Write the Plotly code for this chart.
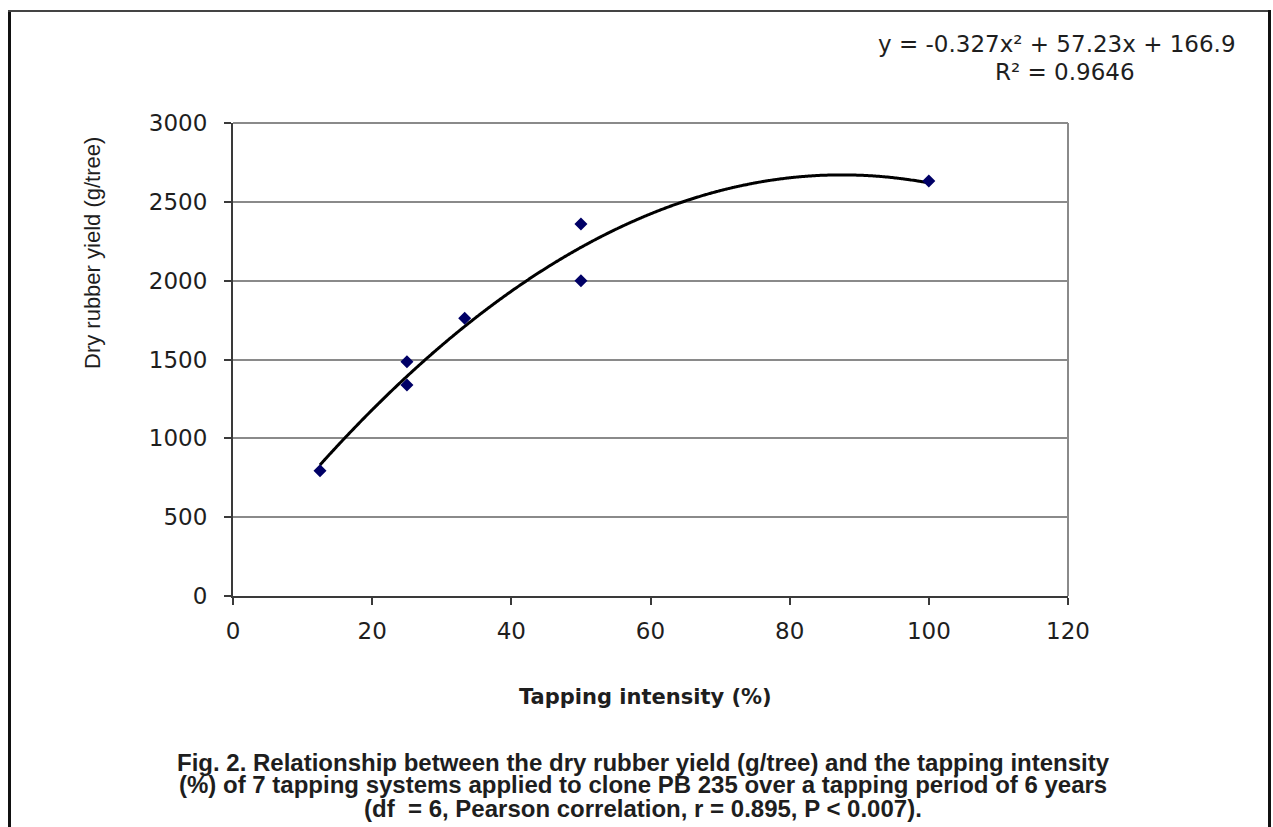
import numpy as np
import plotly.graph_objects as go

# Tapping intensity (%) and dry rubber yield (g/tree) for the 7 tapping systems
intensity = [12.5, 25, 25, 33.3, 50, 50, 100]
yield_g = [795, 1486, 1338, 1761, 2359, 2000, 2632]

# Quadratic trend reported for the data
coef_a, coef_b, coef_c = -0.327, 57.23, 166.9
r_squared = 0.9646

x_ticks = [0, 20, 40, 60, 80, 100, 120]
y_ticks = [0, 500, 1000, 1500, 2000, 2500, 3000]

caption_lines = [
    "Fig. 2. Relationship between the dry rubber yield (g/tree) and the tapping intensity",
    "(%) of 7 tapping systems applied to clone PB 235 over a tapping period of 6 years",
    "(df  = 6, Pearson correlation, r = 0.895, P < 0.007).",
]

W, H = 1273, 827
L, R, T, B = 233, 1068, 123, 596  # plot area in pixels


def px(x):
    return (x - L) / (R - L)


def py(y):
    return (B - y) / (B - T)


trend_x = np.linspace(min(intensity), max(intensity), 400)
trend_y = coef_a * trend_x ** 2 + coef_b * trend_x + coef_c

fig = go.Figure()
fig.add_trace(go.Scatter(
    x=trend_x, y=trend_y, mode="lines",
    line=dict(color="#000000", width=3, shape="spline"), hoverinfo="skip",
))
fig.add_trace(go.Scatter(
    x=intensity, y=yield_g, mode="markers",
    marker=dict(symbol="diamond", size=10, color="#000066"),
))

tick_font = dict(family="DejaVu Sans", size=23, color="#1e1e1e")

fig.update_xaxes(
    range=[0, 120], tickvals=x_ticks, ticktext=[str(v) for v in x_ticks],
    showgrid=False, zeroline=False,
    showline=True, linecolor="#3a3a3a", linewidth=2,
    ticks="outside", ticklen=7, tickwidth=1.5, tickcolor="#3a3a3a",
    tickfont=tick_font, ticklabelstandoff=6,
)
fig.update_yaxes(
    range=[0, 3000], tickvals=y_ticks, ticktext=[str(v) for v in y_ticks],
    showgrid=True, gridcolor="#8a8a8a", gridwidth=2, zeroline=False,
    showline=True, linecolor="#3a3a3a", linewidth=2,
    ticks="outside", ticklen=7, tickwidth=1.5, tickcolor="#3a3a3a",
    tickfont=tick_font, ticklabelstandoff=12,
)

shapes = [
    # plot-area border (top and right)
    dict(type="line", xref="paper", yref="paper", x0=0, x1=1, y0=1, y1=1,
         line=dict(color="#8a8a8a", width=2)),
    dict(type="line", xref="paper", yref="paper", x0=1, x1=1, y0=0, y1=1,
         line=dict(color="#8a8a8a", width=2)),
    # outer frame
    dict(type="line", xref="paper", yref="paper", x0=px(9.5), x1=px(9.5),
         y0=py(10), y1=py(840), line=dict(color="#111111", width=3)),
    dict(type="line", xref="paper", yref="paper", x0=px(8), x1=px(1270),
         y0=py(11), y1=py(11), line=dict(color="#444444", width=2)),
    dict(type="line", xref="paper", yref="paper", x0=px(1269.5), x1=px(1269.5),
         y0=py(10), y1=py(840), line=dict(color="#111111", width=3)),
]

annotations = [
    dict(text=f"y = {coef_a}x² + {coef_b}x + {coef_c}", x=px(1057), y=py(44),
         font=dict(family="DejaVu Sans", size=23, color="#1e1e1e")),
    dict(text=f"R² = {r_squared}", x=px(1065), y=py(72),
         font=dict(family="DejaVu Sans", size=23, color="#1e1e1e")),
    dict(text="Tapping intensity (%)", x=px(645), y=py(697),
         font=dict(family="DejaVu Sans", size=21, color="#1e1e1e", weight="bold")),
    dict(text="Dry rubber yield (g/tree)", x=px(92), y=py(253), textangle=-90,
         font=dict(family="Liberation Sans", size=22, color="#1e1e1e")),
]
for i, line in enumerate(caption_lines):
    annotations.append(dict(
        text=line, x=px(643), y=py(762 + 23 * i),
        font=dict(family="Liberation Sans", size=24, color="#1e1e1e", weight="bold"),
        borderpad=0,
    ))
for a in annotations:
    a.update(xref="paper", yref="paper", showarrow=False,
             xanchor="center", yanchor="middle")

fig.update_layout(
    width=W, height=H,
    margin=dict(l=L, r=W - R, t=T, b=H - B, pad=0),
    paper_bgcolor="white", plot_bgcolor="white",
    showlegend=False,
    shapes=shapes, annotations=annotations,
)

fig.write_html("out.html")
